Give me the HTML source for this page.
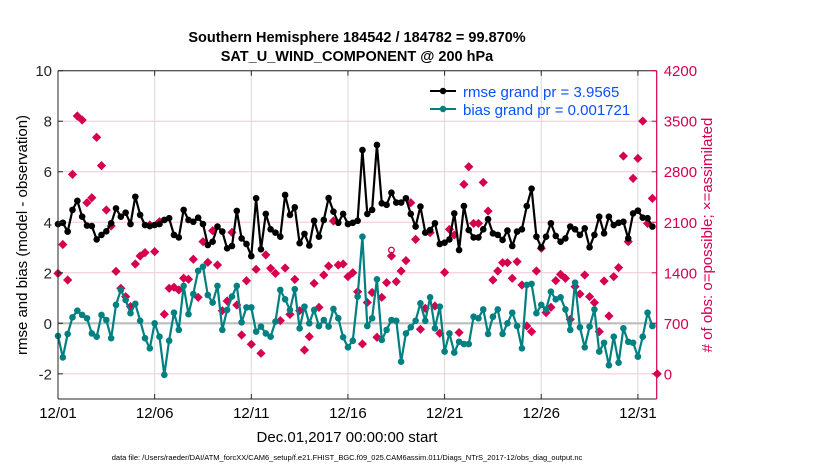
<!DOCTYPE html>
<html><head><meta charset="utf-8"><style>
html,body{margin:0;padding:0;background:#fff}
svg{display:block;font-family:"Liberation Sans",Arial,sans-serif}
</style></head><body>
<svg id="chart" width="830" height="470" viewBox="0 0 830 470">
<text x="357" y="42" text-anchor="middle" font-size="14.5" font-weight="bold">Southern Hemisphere 184542 / 184782 = 99.870%</text>
<text x="357" y="61" text-anchor="middle" font-size="14.5" font-weight="bold">SAT_U_WIND_COMPONENT @ 200 hPa</text>
<g id="grid"></g>
<g id="marks"></g>
<g id="axes"></g>
<text transform="translate(27,235) rotate(-90)" text-anchor="middle" font-size="15">rmse and bias (model - observation)</text>
<text transform="translate(712,235) rotate(-90)" text-anchor="middle" font-size="15" fill="#d6004f"># of obs: o=possible; ×=assimilated</text>
<text x="347" y="442" text-anchor="middle" font-size="15">Dec.01,2017 00:00:00 start</text>
<text x="347" y="460" text-anchor="middle" font-size="7.5">data file: /Users/raeder/DAI/ATM_forcXX/CAM6_setup/f.e21.FHIST_BGC.f09_025.CAM6assim.011/Diags_NTrS_2017-12/obs_diag_output.nc</text>
<g>
<line x1="430" y1="91" x2="456" y2="91" stroke="#000" stroke-width="2"/>
<circle cx="443" cy="91" r="3.2" fill="#000"/>
<text x="463" y="97" font-size="15" fill="#0a50ff">rmse grand pr = 3.9565</text>
<line x1="430" y1="109" x2="456" y2="109" stroke="#008080" stroke-width="2"/>
<circle cx="443" cy="109" r="3.2" fill="#008080"/>
<text x="463" y="115" font-size="15" fill="#0a50ff">bias grand pr = 0.001721</text>
</g>
</svg>
<script>
const rmse=[3.93,3.98,3.63,4.49,4.85,4.22,3.87,3.85,3.32,3.5,3.64,3.96,4.55,4.22,4.38,3.93,5.01,4.29,3.89,3.85,3.89,3.93,4.09,4.16,3.5,3.4,4.49,4.09,4.02,4.18,3.93,
3.1,3.23,3.83,3.63,2.97,3.06,4.45,3.36,3.14,2.66,4.95,2.93,4.33,3.72,3.59,3.43,5.08,4.29,4.59,3.17,3.54,3.08,4.06,3.43,4.09,4.96,4.42,3.98,4.33,3.93,
3.98,4.06,6.86,4.33,4.49,7.06,4.75,4.69,5.17,4.78,4.78,4.95,4.33,3.83,4.62,3.59,3.69,3.96,3.14,3.19,3.32,4.35,2.9,4.64,3.69,3.4,3.4,3.72,4.12,3.56,
3.5,3.3,3.67,3.06,3.63,3.72,4.64,5.33,3.43,3.01,3.43,3.96,3.46,3.23,3.36,3.83,3.72,3.5,3.76,3.01,3.5,4.22,3.56,4.22,3.89,3.98,4.02,3.36,4.35,4.46,4.18,4.16,3.83,null];
const bias=[-0.5,-1.35,-0.42,0.24,0.5,0.33,0.2,-0.4,-0.53,0.33,0.13,-0.59,0.73,1.32,0.92,0.4,0.77,0.1,-0.59,-0.99,0,-0.53,-2.04,-0.69,0.42,-0.26,1.48,0.36,1.16,2.08,2.24,
1.12,0.82,1.48,-0.26,0.53,1.06,1.48,0.04,0.63,0.63,-0.33,-0.13,-0.4,-0.53,0.07,1.32,0.95,0.53,1.35,-0.2,0.66,0,0.53,-0.11,0.13,-0.13,0.57,0.2,-0.55,-0.95,
-0.69,1.06,3.43,-0.11,0.2,1.74,-0.66,-0.26,0.13,0.1,-1.52,-0.4,-0.16,0.1,0.79,0.1,1.03,-0.2,0.66,-1.12,-0.4,-1.16,-0.73,-0.82,-0.82,0.26,0.2,0.55,-0.42,0.26,
0.55,-0.42,0,0.42,-0.11,-0.99,1.52,1.56,0.4,0.73,0.55,1.25,0.95,1.03,0.55,-0.26,1.61,-0.16,-0.95,-0.13,0.55,-1.12,-0.77,-1.66,-0.53,-1.56,-0.2,-0.73,-0.77,-1.32,-0.53,0.42,-0.11,null];
const nAssim=[1392,1792,1300,2763,3572,3517,2371,2440,3277,2885,2270,2048,1420,1185,1069,931,1522,1633,1679,2062,1693,2108,825,1185,1200,1162,1324,1310,1587,1060,1831,
1545,1983,1508,875,1009,1960,953,538,1290,409,1448,284,1648,1462,1392,737,1466,824,1309,875,330,515,1254,921,1369,1494,2117,1508,1522,1346,
1401,1138,414,989,1127,507,1060,1263,1632,1277,1425,1568,2371,1863,617,908,1956,940,562,1406,2002,1924,572,2625,2869,2084,2084,2652,2255,1300,
1425,1540,1540,1323,1554,1231,663,585,1425,1739,848,922,1291,1378,1323,755,1208,1106,1369,1069,986,585,1286,801,1346,1471,3017,1831,2708,2985,3502,2084,2431,0];
const nPoss=nAssim.map((v,i)=>i===69?1715:v);
const leftTicks=[10,8,6,4,2,0,-2];
const rightTicks=[4200,3500,2800,2100,1400,700,0];
const dateTicks=["12/01","12/06","12/11","12/16","12/21","12/26","12/31"];

const X0=58,X1=656.7,Y0=70.7,Y1=399;
const DAYPX=19.33;
const xi=i=>X0+i*DAYPX/4;
const yL=v=>323.3-v*25.26;
const yR=c=>yL(-2)-c*(yL(-2)-yL(10))/4200;
const NS="http://www.w3.org/2000/svg";
function mk(tag,attrs,parent){const e=document.createElementNS(NS,tag);for(const k in attrs)e.setAttribute(k,attrs[k]);parent.appendChild(e);return e;}
const grid=document.getElementById('grid'),marks=document.getElementById('marks'),axes=document.getElementById('axes');
mk('rect',{x:X0,y:Y0,width:X1-X0,height:Y1-Y0,fill:'#fff'},grid);
rightTicks.forEach(c=>{const l=mk('line',{x1:X0,x2:X1,y1:yR(c),y2:yR(c),stroke:'#f2c6d6','stroke-width':1},grid);

});
dateTicks.forEach((d,k)=>{const x=X0+k*5*DAYPX;const l=mk('line',{x1:x,x2:x,y1:Y0,y2:Y1,stroke:'#d8d8d8','stroke-width':1},grid);


const t=mk('text',{x:x,y:418,'text-anchor':'middle','font-size':15},axes);t.textContent=d;


mk('line',{x1:x,x2:x,y1:Y1,y2:Y1-5,stroke:'#262626'},axes);mk('line',{x1:x,x2:x,y1:Y0,y2:Y0+5,stroke:'#262626'},axes);});
const zl=mk('line',{x1:X0,x2:X1,y1:yL(0),y2:yL(0),stroke:'#bdbdbd','stroke-width':2.2},grid);


// obs diamonds
nAssim.forEach((c,i)=>{const x=xi(i),y=yR(c),s=4.6;
const p=mk('polygon',{points:`${x},${y-s} ${x+s},${y} ${x},${y+s} ${x-s},${y}`,fill:'#d6004f'},marks);

});
nPoss.forEach((c,i)=>{if(c!==nAssim[i]){const e=mk('circle',{cx:xi(i),cy:yR(c),r:2.8,fill:'none',stroke:'#d6004f','stroke-width':1.3},marks);

}});
function series(arr,color,name){let d='';arr.forEach((v,i)=>{if(v===null)return;d+=(d?'L':'M')+xi(i).toFixed(1)+','+yL(v).toFixed(1);});
const p=mk('path',{d:d,fill:'none',stroke:color,'stroke-width':2.2,'stroke-linejoin':'round'},marks);


arr.forEach((v,i)=>{if(v===null)return;const c=mk('circle',{cx:xi(i),cy:yL(v),r:3.3,fill:color},marks);

});}
series(rmse,'#000','rmse');
series(bias,'#008080','bias');
// axes frame
mk('line',{x1:X0,x2:X1,y1:Y0,y2:Y0,stroke:'#262626'},axes);
mk('line',{x1:X0,x2:X1,y1:Y1,y2:Y1,stroke:'#262626'},axes);
mk('line',{x1:X0,x2:X0,y1:Y0,y2:Y1,stroke:'#262626'},axes);
mk('line',{x1:X1,x2:X1,y1:Y0,y2:Y1,stroke:'#d6004f','stroke-width':1.2},axes);
leftTicks.forEach(v=>{const y=yL(v);mk('line',{x1:X0,x2:X0+5,y1:y,y2:y,stroke:'#262626'},axes);
const t=mk('text',{x:52,y:y+5.5,'text-anchor':'end','font-size':15,fill:'#262626'},axes);t.textContent=v;

});
rightTicks.forEach(c=>{const y=yR(c);mk('line',{x1:X1-5,x2:X1,y1:y,y2:y,stroke:'#d6004f'},axes);
const t=mk('text',{x:X1+7,y:y+5.5,'font-size':15,fill:'#d6004f'},axes);t.textContent=c;

});
</script>
</body></html>
